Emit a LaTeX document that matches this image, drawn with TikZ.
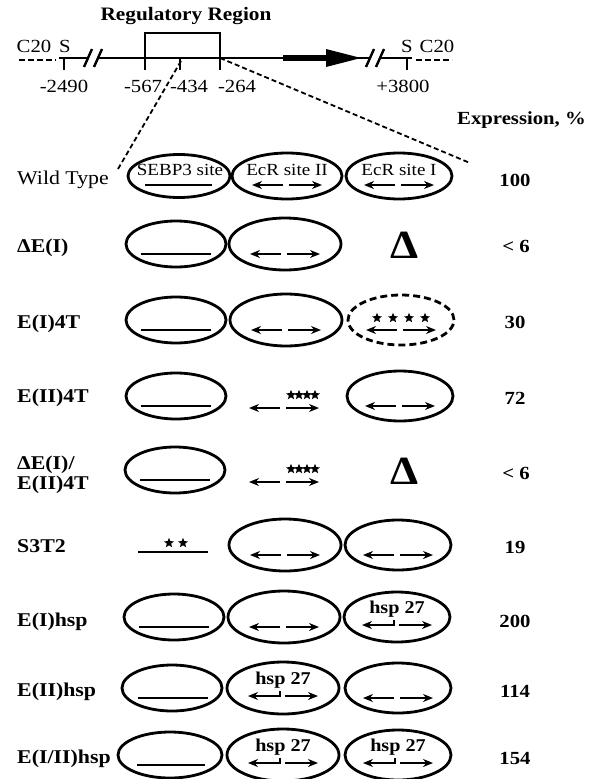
\documentclass[tikz,border=0pt]{standalone}
\usepackage{fontspec}
\setmainfont{Liberation Serif}[FakeStretch=1.12]
\usetikzlibrary{shapes.geometric,arrows.meta}
\newcommand\fs[1]{\fontsize{#1}{#1}\selectfont}
\begin{document}
\begin{tikzpicture}[x=1pt,y=-1pt,
  ell/.style={draw, ellipse, line width=2.8pt, inner sep=0pt},
  eA/.style={ell, minimum width=100pt, minimum height=46pt},
  eB/.style={ell, minimum width=112pt, minimum height=52pt},
  eC/.style={ell, minimum width=106pt, minimum height=50pt},
  arr/.style={line width=2.6pt, -{Stealth[length=10pt,width=8pt]}},
  bar/.style={line width=2.8pt},
  starn/.style={star, star points=5, star point ratio=2.3, fill, draw=none, inner sep=0pt, minimum size=10.5pt},
  lab/.style={anchor=base west, font=\fs{19.5}\bfseries, inner sep=0pt},
  num/.style={anchor=base, font=\fs{18.5}\bfseries, inner sep=0pt},
  maplab/.style={font=\fs{18.5}, inner sep=0pt},
  intext/.style={font=\fs{18}\bfseries, inner sep=0pt},
  sitetext/.style={font=\fs{17}, inner sep=0pt},
  zoomline/.style={line width=1.8pt, dash pattern=on 5pt off 3pt},
  mapline/.style={line width=2.8pt},
  thin/.style={line width=2.4pt},
  cdash/.style={line width=2.8pt, dash pattern=on 6pt off 3pt},
  deltan/.style={font=\fs{40}\bfseries, inner sep=0pt}
]
\useasboundingbox (0,0) rectangle (589,779);

% ---------------- map ----------------
\node[font=\fs{19}\bfseries, inner sep=0pt] (regtitle) at (186,16) {Regulatory Region};
\draw[thin] (145,70) -- (145,33) -- (220,33) -- (220,70);
\coordinate (boxR) at (220,58);
\draw[cdash] (19,60) -- (56,60);
\draw[mapline] (59,58) -- (88,58);
\draw[mapline] (98,58) -- (283,58);
\draw[line width=6.5pt] (283,58) -- (330,58);
\fill (326,49) -- (361,58) -- (326,67) -- cycle;
\draw[mapline] (358,58) -- (371,58);
\draw[mapline] (381,58) -- (412,58);
\draw[cdash] (416,60) -- (452,60);
% breaks
\draw[thin] (84,67) -- (92,49);
\draw[thin] (94,67) -- (102,49);
\draw[thin] (366,67) -- (374,49);
\draw[thin] (376,67) -- (384,49);
% ticks
\draw[thin] (64,58) -- (64,70);
\draw[thin] (180,58) -- (180,70);
\draw[thin] (407,58) -- (407,70);
\coordinate (t434) at (181,61);
% map labels
\node[maplab] (c20l) at (34,46) {C20};
\node[maplab] (sl) at (65,46) {S};
\node[maplab] (sr) at (407,46) {S};
\node[maplab] (c20r) at (437,46) {C20};
\node[maplab] (p2490) at (64,86) {-2490};
\node[maplab] (p567) at (143,86) {-567};
\node[maplab] (p434) at (189,86) {-434};
\node[maplab] (p264) at (237,86) {-264};
\node[maplab] (p3800) at (403,86) {+3800};
\node[num, anchor=base east] (exprh) at (586,124) {Expression, \%};
% zoom lines
\coordinate (zl) at (118,169);
\coordinate (zr) at (470,163);
\draw[zoomline] (t434) -- (zl);
\draw[zoomline] (boxR) -- (zr);

% ---------------- Wild Type ----------------
\node[lab, font=\fs{19.5}] (lwt) at (17,184) {Wild Type};
\node[ell, minimum width=102pt, minimum height=43pt] (wt1) at (179,176) {};
\node[ell, minimum width=110pt, minimum height=46pt] (wt2) at (287,176) {};
\node[ell, minimum width=106pt, minimum height=46pt] (wt3) at (399,176) {};
\node[sitetext] (wt1t) at (180,170) {SEBP3 site};
\draw[bar] (145,185) -- (212,185);
\node[sitetext] (wt2t) at (287,170) {EcR site II};
\begin{scope}[shift={(287,176)}]
\draw[arr] (-4,9) -- (-35,9); \draw[arr] (2,9) -- (35,9);
\end{scope}
\node[sitetext] (wt3t) at (399,170) {EcR site I};
\begin{scope}[shift={(399,176)}]
\draw[arr] (-4,9) -- (-35,9); \draw[arr] (2,9) -- (35,9);
\end{scope}
\node[num] (n1) at (515,186) {100};

% ---------------- Delta E(I) ----------------
\node[lab] (l2) at (17,252) {ΔE(I)};
\node[eA] (r2a) at (176,244) {};
\node[eB] (r2b) at (285,244) {};
\draw[bar] (141,254) -- (211,254);
\begin{scope}[shift={(285,244)}]
\draw[arr] (-4,10) -- (-35,10); \draw[arr] (2,10) -- (35,10);
\end{scope}
\node[deltan] (d2) at (405,245) {Δ};
\node[num] (n2) at (516,252) {< 6};

% ---------------- E(I)4T ----------------
\node[lab] (l3) at (17,328) {E(I)4T};
\node[eA] (r3a) at (176,320) {};
\node[eB] (r3b) at (286,320) {};
\node[eC, dash pattern=on 7pt off 4pt] (r3c) at (401,320) {};
\draw[bar] (141,330) -- (211,330);
\begin{scope}[shift={(286,320)}]
\draw[arr] (-4,10) -- (-35,10); \draw[arr] (2,10) -- (35,10);
\end{scope}
\begin{scope}[shift={(401,320)}]
\draw[arr] (-4,10) -- (-35,10); \draw[arr] (2,10) -- (35,10);
\node[starn] at (-24,-2) {}; \node[starn] at (-8,-2) {};
\node[starn] at (8,-2) {}; \node[starn] at (24,-2) {};
\end{scope}
\node[num] (n3) at (515,328) {30};

% ---------------- E(II)4T ----------------
\node[lab] (l4) at (17,402) {E(II)4T};
\node[eA] (r4a) at (176,396) {};
\node[eC] (r4c) at (400,396) {};
\draw[bar] (141,406) -- (211,406);
\begin{scope}[shift={(284,396)}]
\draw[arr] (-4,12) -- (-35,12); \draw[arr] (2,12) -- (35,12);
\node[starn] at (7,-1) {}; \node[starn] at (15,-1) {};
\node[starn] at (23,-1) {}; \node[starn] at (31,-1) {};
\end{scope}
\begin{scope}[shift={(400,396)}]
\draw[arr] (-4,10) -- (-35,10); \draw[arr] (2,10) -- (35,10);
\end{scope}
\node[num] (n4) at (515,404) {72};

% ---------------- Delta E(I)/E(II)4T ----------------
\node[lab, align=left, font=\fontsize{19.5}{20}\selectfont\bfseries] (l5) at (17,489) {ΔE(I)/\\E(II)4T};
\node[eA] (r5a) at (175,470) {};
\draw[bar] (140,480) -- (210,480);
\begin{scope}[shift={(284,470)}]
\draw[arr] (-4,12) -- (-35,12); \draw[arr] (2,12) -- (35,12);
\node[starn] at (7,-1) {}; \node[starn] at (15,-1) {};
\node[starn] at (23,-1) {}; \node[starn] at (31,-1) {};
\end{scope}
\node[deltan] (d5) at (405,471) {Δ};
\node[num] (n5) at (516,479) {< 6};

% ---------------- S3T2 ----------------
\node[lab] (l6) at (17,552) {S3T2};
\draw[bar] (138,552) -- (208,552);
\node[starn] at (169,543) {}; \node[starn] at (183,543) {};
\node[eB] (r6b) at (285,545) {};
\node[eC] (r6c) at (398,545) {};
\begin{scope}[shift={(285,545)}]
\draw[arr] (-4,10) -- (-35,10); \draw[arr] (2,10) -- (35,10);
\end{scope}
\begin{scope}[shift={(398,545)}]
\draw[arr] (-4,10) -- (-35,10); \draw[arr] (2,10) -- (35,10);
\end{scope}
\node[num] (n6) at (515,553) {19};

% ---------------- E(I)hsp ----------------
\node[lab] (l7) at (17,626) {E(I)hsp};
\node[eA] (r7a) at (174,617) {};
\node[eB] (r7b) at (284,617) {};
\node[eC] (r7c) at (397,617) {};
\draw[bar] (139,627) -- (209,627);
\begin{scope}[shift={(284,617)}]
\draw[arr] (-4,10) -- (-35,10); \draw[arr] (2,10) -- (35,10);
\end{scope}
\begin{scope}[shift={(397,617)}]
\node[intext] at (0,-8) {hsp 27};
\draw[arr] (-3,3) -- (-3,8) -- (-35,8); \draw[arr] (2,8) -- (35,8);
\end{scope}
\node[num] (n7) at (515,627) {200};

% ---------------- E(II)hsp ----------------
\node[lab] (l8) at (17,696) {E(II)hsp};
\node[eA] (r8a) at (172,688) {};
\node[eB] (r8b) at (283,688) {};
\node[eC] (r8c) at (398,688) {};
\draw[bar] (138,698) -- (208,698);
\begin{scope}[shift={(283,688)}]
\node[intext] at (0,-8) {hsp 27};
\draw[arr] (-3,3) -- (-3,8) -- (-35,8); \draw[arr] (2,8) -- (35,8);
\end{scope}
\begin{scope}[shift={(398,688)}]
\draw[arr] (-4,10) -- (-35,10); \draw[arr] (2,10) -- (35,10);
\end{scope}
\node[num] (n8) at (515,697) {114};

% ---------------- E(I/II)hsp ----------------
\node[lab] (l9) at (17,763) {E(I/II)hsp};
\node[ell, minimum width=104pt, minimum height=46pt] (r9a) at (170,755) {};
\node[eB] (r9b) at (283,755) {};
\node[eC] (r9c) at (398,755) {};
\draw[bar] (137,765) -- (205,765);
\begin{scope}[shift={(283,755)}]
\node[intext] at (0,-8) {hsp 27};
\draw[arr] (-3,3) -- (-3,8) -- (-35,8); \draw[arr] (2,8) -- (35,8);
\end{scope}
\begin{scope}[shift={(398,755)}]
\node[intext] at (0,-8) {hsp 27};
\draw[arr] (-3,3) -- (-3,8) -- (-35,8); \draw[arr] (2,8) -- (35,8);
\end{scope}
\node[num] (n9) at (515,764) {154};
\end{tikzpicture}
\end{document}
